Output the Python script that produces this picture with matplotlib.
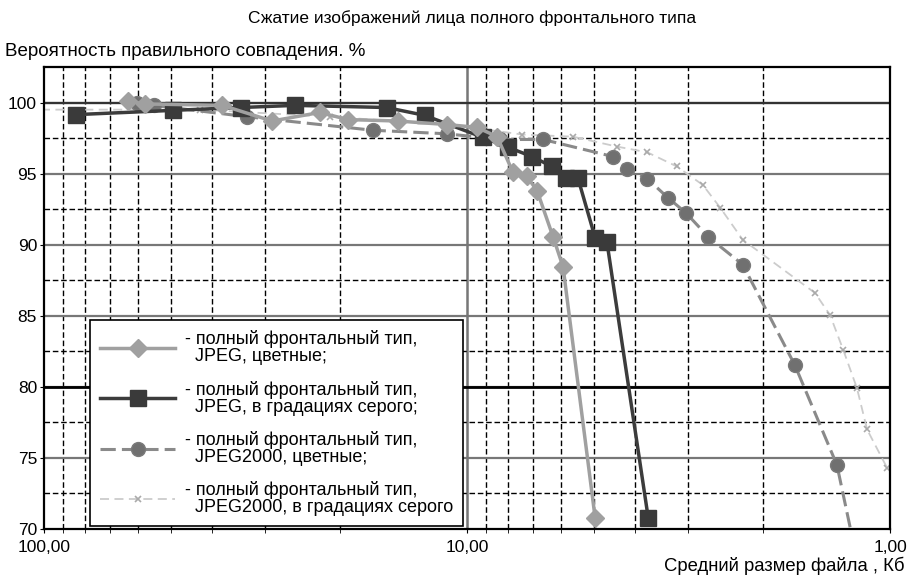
import numpy as np
import matplotlib.pyplot as plt
from matplotlib.ticker import FixedLocator, NullFormatter

plt.rcParams['font.family'] = ['Liberation Sans', 'DejaVu Sans']

# JPEG, color (diamonds)
jpeg_color_size = [63.3, 57.7, 37.9, 28.9, 22.3, 19.1, 14.6, 11.15, 9.47, 8.49, 7.79, 7.22, 6.83, 6.26, 5.93, 4.98]
jpeg_color_prob = [100.1, 99.9, 99.8, 98.7, 99.3, 98.8, 98.7, 98.45, 98.25, 97.6, 95.1, 94.8, 93.8, 90.55, 88.45, 70.8]

# JPEG, grayscale (squares)
jpeg_gray_size = [84.0, 49.5, 34.2, 25.5, 15.5, 12.6, 9.17, 8.0, 7.02, 6.3, 5.83, 5.47, 4.98, 4.67, 3.73]
jpeg_gray_prob = [99.15, 99.45, 99.65, 99.8, 99.65, 99.1, 97.55, 96.85, 96.2, 95.5, 94.7, 94.7, 90.5, 90.2, 70.8]

# JPEG2000, color (circles); last point has no marker
j2k_color_size = [60.3, 55.0, 33.1, 16.7, 11.15, 8.36, 6.61, 4.52, 4.18, 3.75, 3.35, 3.04, 2.69, 2.23, 1.68, 1.335, 1.22]
j2k_color_prob = [100.0, 99.8, 99.0, 98.05, 97.8, 97.4, 97.4, 96.2, 95.35, 94.65, 93.3, 92.25, 90.55, 88.6, 81.55, 74.5, 69.0]

# JPEG2000, grayscale (small light marks)
j2k_gray_size = [110.0, 42.8, 21.1, 11.0, 7.41, 5.62, 4.42, 3.75, 3.19, 2.77, 2.52, 2.23, 1.504, 1.386, 1.29, 1.197, 1.133, 1.016]
j2k_gray_prob = [99.5, 99.5, 99.0, 98.45, 97.75, 97.6, 96.9, 96.5, 95.5, 94.2, 92.6, 90.35, 86.6, 85.05, 82.6, 79.9, 77.0, 74.3]

labels = [
    '- полный фронтальный тип,\n  JPEG, цветные;',
    '- полный фронтальный тип,\n  JPEG, в градациях серого;',
    '- полный фронтальный тип,\n  JPEG2000, цветные;',
    '- полный фронтальный тип,\n  JPEG2000, в градациях серого',
]

x_major = [100, 10, 1]
x_major_labels = ['100,00', '10,00', '1,00']
y_major = [70, 75, 80, 85, 90, 95, 100]

fig = plt.figure(figsize=(9.08, 5.76), dpi=100)
ax = fig.add_axes([0.0485, 0.0816, 0.9317, 0.8021])

ax.set_xscale('log')
ax.set_xlim(100, 1)
ax.set_ylim(70, 102.5)

# grid
minor_x = [m * 10 ** k for k in (0, 1) for m in range(2, 10)]
for v in minor_x:
    ax.axvline(v, color='black', lw=1.0, ls=(0, (4, 2)), zorder=1)
ax.axvline(10, color='#777777', lw=1.8, zorder=1)
for y in y_major[1:]:
    ax.axhline(y, color='#777777', lw=1.6, zorder=1)
for y in np.arange(72.5, 102.5, 5):
    ax.axhline(y, color='black', lw=1.0, ls=(0, (4, 2)), zorder=1)
ax.axhline(80, color='black', lw=2.0, zorder=1)
ax.axhline(100, color='#333333', lw=1.6, zorder=1)

l4, = ax.plot(j2k_gray_size, j2k_gray_prob, color='#cccccc', lw=1.3, ls=(0, (5, 3)),
              marker='x', ms=5, mew=1.2, mec='#aaaaaa', zorder=3)
l3, = ax.plot(j2k_color_size, j2k_color_prob, color='#8a8a8a', lw=2.2, ls=(0, (5, 2)),
              marker='o', ms=10, mfc='#707070', mec='#7a7a7a',
              markevery=list(range(len(j2k_color_size) - 1)), zorder=4)
l2, = ax.plot(jpeg_gray_size, jpeg_gray_prob, color='#3c3c3c', lw=2.5,
              marker='s', ms=11, mfc='#3a3a3a', mec='#3a3a3a', zorder=5)
l1, = ax.plot(jpeg_color_size, jpeg_color_prob, color='#a0a0a0', lw=2.5,
              marker='D', ms=9, mfc='#a0a0a0', mec='#a0a0a0', zorder=6)

ax.xaxis.set_major_locator(FixedLocator(x_major))
ax.set_xticklabels(x_major_labels)
ax.xaxis.set_minor_locator(FixedLocator(minor_x))
ax.xaxis.set_minor_formatter(NullFormatter())
ax.set_yticks(y_major)
ax.set_yticklabels([str(v) for v in y_major])
ax.tick_params(axis='both', labelsize=12.5, length=3, color='black')
ax.tick_params(axis='y', pad=2)
ax.tick_params(axis='x', pad=5)
ax.tick_params(axis='x', which='minor', length=3)
for s in ax.spines.values():
    s.set_linewidth(1.6)
    s.set_zorder(7)

leg = ax.legend([l1, l2, l3, l4], labels, loc='lower left',
                bbox_to_anchor=(0.054, 0.006), borderaxespad=0, fontsize=13,
                handlelength=4.2, labelspacing=0.85, borderpad=0.55, handletextpad=0.5,
                frameon=True, fancybox=False, edgecolor='black', framealpha=1)
for t in leg.get_texts():
    t.set_linespacing(1.0)
leg.get_frame().set_linewidth(1.2)
leg.set_zorder(8)

fig.text(0.52, 0.968, 'Сжатие изображений лица полного фронтального типа', ha='center', va='center', fontsize=12.5)
fig.text(0.005, 0.91, 'Вероятность правильного совпадения. %', ha='left', va='center', fontsize=13.5)
fig.text(0.996, 0.018, 'Средний размер файла , Кб', ha='right', va='center', fontsize=13.3)

fig.savefig('out.png', dpi=100)
